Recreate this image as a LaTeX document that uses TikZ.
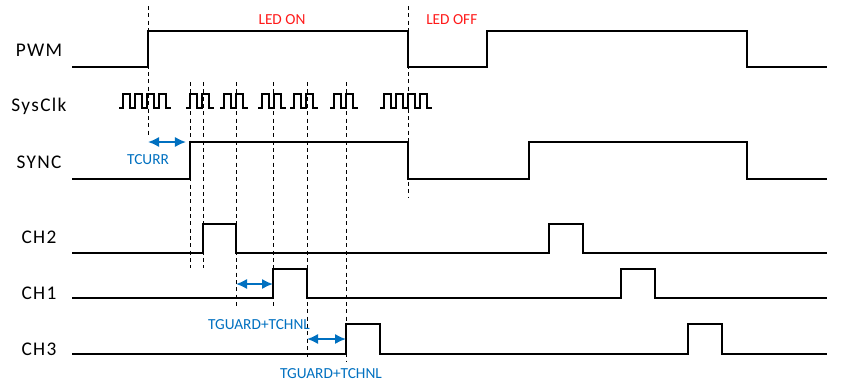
\documentclass[tikz,border=0pt]{standalone}
\usepackage{fontspec}
\setmainfont{Carlito}
\newfontfamily\tracefont[LetterSpace=7]{Carlito}
\usetikzlibrary{arrows.meta}
\definecolor{TraceInk}{HTML}{000000}
\definecolor{TraceRed}{HTML}{FF1A1A}
\definecolor{TraceBlue}{HTML}{0070C0}
\tikzset{
  every node/.style={text=TraceInk, inner sep=0pt},
  siglabel/.style={font=\tracefont\fontsize{14.5}{16}\selectfont, anchor=base},
  note/.style={font=\fontsize{11.5}{13}\selectfont, anchor=base},
  signal/.style={draw=TraceInk, line width=1.3pt, line join=miter},
  clock/.style={draw=TraceInk, line width=1.1pt},
  guide/.style={draw=TraceInk, line width=0.6pt, dash pattern=on 3pt off 2.5pt},
  dimension/.style={{Latex[length=2.9mm,width=2.7mm]}-{Latex[length=2.9mm,width=2.7mm]}, draw=TraceBlue, line width=1.5pt},
}

\begin{document}
\begin{tikzpicture}[x=0.75pt, y=-0.75pt]
  \useasboundingbox (0,0) rectangle (843,383);
  % Signal names
  \node[siglabel] (pwm) at (39,56) {PWM};
  \node[siglabel] (sysclk) at (39,111) {SysClk};
  \node[siglabel] (sync) at (39,168) {SYNC};
  \node[siglabel] (ch2) at (39,243) {CH2};
  \node[siglabel] (ch1) at (39,299) {CH1};
  \node[siglabel] (ch3) at (39,355) {CH3};
  % Guides
  \draw[guide] (148,6) -- (148,135);
  \draw[guide] (408,6) -- (408,197);
  \foreach \x/\y in {190/268, 203/268, 236/308, 273/308, 307/360, 346/362}
    \draw[guide] (\x,82) -- (\x,\y);
  % PWM
  \draw[signal] (72,67) -- (148,67) -- (148,31) -- (408,31) -- (408,67)
    -- (487,67) -- (487,31) -- (747,31) -- (747,67) -- (827,67);
  % SysClk bursts
  \foreach \s/\n in {119/4, 186/2, 220/2, 258/2, 290/2, 330/2, 380/4}
    \foreach \k in {1,...,\n}
      \draw[clock] ({\s+12*\k-12},108) -- ({\s+12*\k-8},108) -- ({\s+12*\k-8},94)
        -- ({\s+12*\k-1},94) -- ({\s+12*\k-1},108) -- ({\s+12*\k+4},108);
  % SYNC
  \draw[signal] (72,179) -- (190,179) -- (190,142) -- (408,142) -- (408,179)
    -- (529,179) -- (529,142) -- (747,142) -- (747,179) -- (827,179);
  % Channels
  \draw[signal] (72,253) -- (203,253) -- (203,224) -- (236,224) -- (236,253)
    -- (549,253) -- (549,224) -- (583,224) -- (583,253) -- (827,253);
  \draw[signal] (72,298) -- (273,298) -- (273,269) -- (307,269) -- (307,298)
    -- (621,298) -- (621,269) -- (655,269) -- (655,298) -- (827,298);
  \draw[signal] (72,354) -- (346,354) -- (346,324) -- (380,324) -- (380,354)
    -- (688,354) -- (688,324) -- (722,324) -- (722,354) -- (827,354);
  % Phases
  \node[note, text=TraceRed] (ledon) at (282,24) {LED ON};
  \node[note, text=TraceRed, anchor=base west] (ledoff) at (426,24) {LED OFF};
  % Delays
  \coordinate (tcurrL) at (148,142);
  \coordinate (tcurrR) at (186,142);
  \coordinate (guardAL) at (236,284);
  \coordinate (guardAR) at (273,284);
  \coordinate (guardBL) at (307,339);
  \coordinate (guardBR) at (346,339);
  \draw[dimension] (tcurrL) -- (tcurrR);
  \draw[dimension] (guardAL) -- (guardAR);
  \draw[dimension] (guardBL) -- (guardBR);
  \node[note, text=TraceBlue] (tcurr) at (148,164) {TCURR};
  \node[note, text=TraceBlue] (guardA) at (259,329) {TGUARD+TCHNL};
  \node[note, text=TraceBlue] (guardB) at (331,378) {TGUARD+TCHNL};
\end{tikzpicture}
\end{document}
